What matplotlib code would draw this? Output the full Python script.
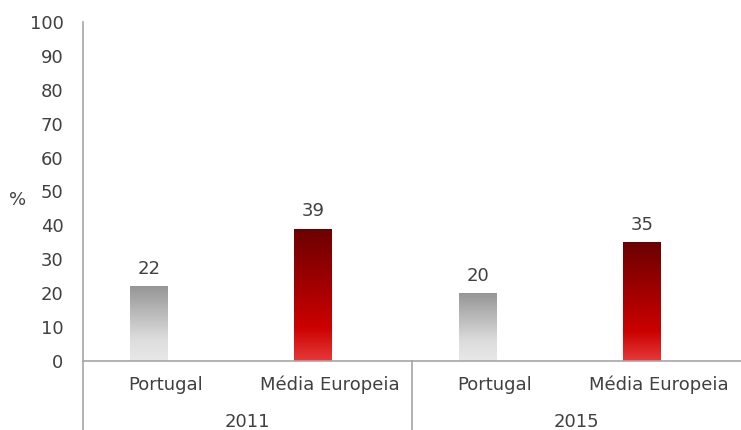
import numpy as np
import matplotlib
matplotlib.use("Agg")
import matplotlib.pyplot as plt
from matplotlib.colors import LinearSegmentedColormap
from matplotlib.transforms import blended_transform_factory

# Dados
anos = ['2011', '2015']
categorias = ['Portugal', 'Média Europeia']
portugal = [22, 20]
media_europeia = [39, 35]

cinza = LinearSegmentedColormap.from_list('cinza', [(0, '#e8e8e8'), (0.3, '#dcdcdc'), (1, '#969696')])
vermelho = LinearSegmentedColormap.from_list('vermelho', [(0, '#e63a3a'), (0.25, '#cc0000'), (1, '#6b0000')])

texto = '#404040'
linha = '#a6a6a6'

fig = plt.figure(figsize=(7.41, 4.30), dpi=100)
ax = fig.add_axes([83 / 741, 69 / 430, 658 / 741, 339 / 430])

valores, cmaps, rotulos = [], [], []
for p, m in zip(portugal, media_europeia):
    valores += [p, m]
    cmaps += [cinza, vermelho]
    rotulos += categorias
x = np.arange(len(valores))
largura = 0.23
desvio = -0.1

bars = ax.bar(x + desvio, valores, largura, color='none', edgecolor='none')
grad = np.linspace(0, 1, 256).reshape(-1, 1)
for bar, cmap, v in zip(bars, cmaps, valores):
    x0 = bar.get_x()
    im = ax.imshow(grad, extent=[x0, x0 + bar.get_width(), 0, v], origin='lower',
                   aspect='auto', cmap=cmap, zorder=2)
    im.set_clip_path(bar)
    ax.annotate(str(v), (bar.get_x() + bar.get_width() / 2, v), xytext=(0, 6),
                textcoords='offset points', ha='center', va='bottom',
                fontsize=13, color=texto)

ax.set_xlim(-0.5, len(valores) - 0.5)
ax.set_ylim(0, 100)
ax.set_yticks(range(0, 101, 10))
ax.tick_params(axis='y', length=0, pad=14, labelsize=13, labelcolor=texto)
ax.set_xticks([])
for s in ['top', 'right']:
    ax.spines[s].set_visible(False)
for s in ['left', 'bottom']:
    ax.spines[s].set_color(linha)
    ax.spines[s].set_linewidth(1.2)

trans = blended_transform_factory(ax.transData, ax.transAxes)
for xi, r in zip(x, rotulos):
    ax.text(xi, -0.071, r, transform=trans, ha='center', va='center',
            fontsize=13, color=texto)
for i, ano in enumerate(anos):
    ax.text(2 * i + 0.5, -0.18, ano, transform=trans, ha='center', va='center',
            fontsize=13, color=texto)
for xs in [-0.5, 1.5]:
    ax.plot([xs, xs], [0, -0.21], transform=trans, color=linha, lw=1.2, clip_on=False)

fig.text(18 / 741, 1 - 200 / 430, '%', ha='center', va='center', fontsize=13, color=texto)

fig.savefig('out.png', dpi=100)
